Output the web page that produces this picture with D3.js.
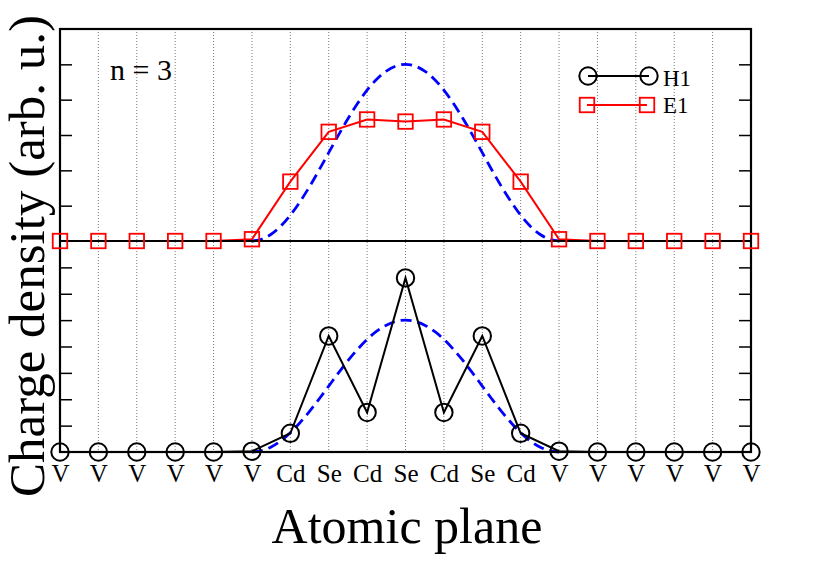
<!DOCTYPE html>
<html><head><meta charset="utf-8">
<script src="https://cdn.jsdelivr.net/npm/d3@7"></script>
<style>
html,body{margin:0;padding:0;background:#fff;}
svg text{font-family:"Liberation Serif","Times New Roman",serif;fill:#000;}
</style></head>
<body><svg id="c" width="830" height="587"></svg>
<script>
// ---- data ----
const atoms = ["V","V","V","V","V","V","Cd","Se","Cd","Se","Cd","Se","Cd","V","V","V","V","V","V"];
const H1 = [0,0,0,0,0,0.03,0.71,4.40,1.50,6.60,1.50,4.40,0.71,0.03,0,0,0,0,0];
const E1 = [0,0,0,0,0,0.05,1.68,3.09,3.44,3.38,3.44,3.09,1.68,0.05,0,0,0,0,0];
const envPos = [5,5.25,5.5,5.75,6,6.25,6.5,6.75,7,7.25,7.5,7.75,8,8.25,8.5,8.75,9,9.25,9.5,9.75,10,10.25,10.5,10.75,11,11.25,11.5,11.75,12,12.25,12.5,12.75,13];
const envE1 = [0,0.05,0.19,0.42,0.73,1.11,1.54,2.01,2.5,2.99,3.46,3.89,4.27,4.58,4.81,4.95,5.0,4.95,4.81,4.58,4.27,3.89,3.46,2.99,2.5,2.01,1.54,1.11,0.73,0.42,0.19,0.05,0];
const envH1 = [0,0.05,0.19,0.42,0.73,1.11,1.54,2.01,2.5,2.99,3.46,3.89,4.27,4.58,4.81,4.95,5.0,4.95,4.81,4.58,4.27,3.89,3.46,2.99,2.5,2.01,1.54,1.11,0.73,0.42,0.19,0.05,0];
const topTicks = [1,2,3,4,5];
const botTicks = [1,2,3,4,5,6,7];

// ---- layout ----
const L = 60, R = 751, T = 29, M = 241, B = 452;
const svg = d3.select("#c");
const x = d3.scaleLinear().domain([0,18]).range([L,R]);
const yTop = d3.scaleLinear().domain([0,6]).range([M,T]);
const yBot = d3.scaleLinear().domain([0,8]).range([B,M]);

// grid
svg.append("g").selectAll("line").data(d3.range(1,18)).join("line")
  .attr("x1",d=>x(d)).attr("x2",d=>x(d)).attr("y1",T).attr("y2",B)
  .attr("stroke","#777").attr("stroke-width",1).attr("stroke-dasharray","1,2");

// inward ticks via axes
function ticks(scale, vals, side){
  const ax = (side==="left"? d3.axisLeft(scale) : d3.axisRight(scale))
    .tickValues(vals).tickSize(-12).tickFormat("");
  const g = svg.append("g").attr("transform",`translate(${side==="left"?L:R},0)`).call(ax);
  g.select(".domain").remove();
  g.selectAll(".tick line").attr("stroke","#000").attr("stroke-width",1.5);
}
ticks(yTop, topTicks, "left"); ticks(yTop, topTicks, "right");
ticks(yBot, botTicks, "left"); ticks(yBot, botTicks, "right");

// envelopes
const envLineTop = d3.line().x((d,i)=>x(envPos[i])).y(d=>yTop(d)).curve(d3.curveCatmullRom);
const envLineBot = d3.line().x((d,i)=>x(envPos[i])).y(d=>yBot(d)).curve(d3.curveCatmullRom);
svg.append("path").attr("d",envLineTop(envE1)).attr("fill","none").attr("stroke","#0000ff")
  .attr("stroke-width",2.8).attr("stroke-dasharray","11,6");
svg.append("path").attr("d",envLineBot(envH1)).attr("fill","none").attr("stroke","#0000ff")
  .attr("stroke-width",2.8).attr("stroke-dasharray","11,6");

// data lines
const lineTop = d3.line().x((d,i)=>x(i)).y(d=>yTop(d));
const lineBot = d3.line().x((d,i)=>x(i)).y(d=>yBot(d));
svg.append("path").attr("d",lineTop(E1)).attr("fill","none").attr("stroke","#ff0000").attr("stroke-width",2);
svg.append("path").attr("d",lineBot(H1)).attr("fill","none").attr("stroke","#000").attr("stroke-width",2);

// baseline & frame
svg.append("line").attr("x1",L).attr("x2",R).attr("y1",M).attr("y2",M).attr("stroke","#000").attr("stroke-width",2.2);
svg.append("rect").attr("x",L).attr("y",T).attr("width",R-L).attr("height",B-T)
  .attr("fill","none").attr("stroke","#000").attr("stroke-width",2.2);

// markers
const sq = 14.5, cr = 8.7;
svg.append("g").selectAll("rect").data(E1).join("rect")
  .attr("x",(d,i)=>x(i)-sq/2).attr("y",d=>yTop(d)-sq/2).attr("width",sq).attr("height",sq)
  .attr("fill","none").attr("stroke","#ff0000").attr("stroke-width",1.8);
svg.append("g").selectAll("circle").data(H1).join("circle")
  .attr("cx",(d,i)=>x(i)).attr("cy",d=>yBot(d)).attr("r",cr)
  .attr("fill","none").attr("stroke","#000").attr("stroke-width",2);

// bottom labels
const xa = d3.axisBottom(x).tickValues(d3.range(atoms.length)).tickFormat(i=>atoms[i]).tickSize(0);
const gx = svg.append("g").attr("transform",`translate(0,${B})`).call(xa);
gx.select(".domain").remove();
gx.selectAll(".tick text").attr("y",30).attr("dy",0)
  .style("font-family","Liberation Serif").style("font-size","25px").attr("fill","#000");

// legend
const lg = svg.append("g");
lg.append("line").attr("x1",588).attr("x2",649).attr("y1",76).attr("y2",76).attr("stroke","#000").attr("stroke-width",2);
lg.selectAll("circle").data([588,649]).join("circle").attr("cx",d=>d).attr("cy",76).attr("r",cr)
  .attr("fill","none").attr("stroke","#000").attr("stroke-width",2);
lg.append("line").attr("x1",587).attr("x2",647).attr("y1",105).attr("y2",105).attr("stroke","#ff0000").attr("stroke-width",2);
lg.selectAll("rect").data([587,647]).join("rect").attr("x",d=>d-sq/2).attr("y",105-sq/2).attr("width",sq).attr("height",sq)
  .attr("fill","none").attr("stroke","#ff0000").attr("stroke-width",1.8);
lg.append("text").attr("x",663).attr("y",86).style("font-size","23px").text("H1");
lg.append("text").attr("x",663).attr("y",113).style("font-size","23px").text("E1");

// annotations
svg.append("text").attr("x",110).attr("y",80).style("font-size","30px").text("n = 3");
svg.append("text").attr("x",407).attr("y",543).attr("text-anchor","middle").style("font-size","50px").text("Atomic plane");
svg.append("text").attr("transform","translate(44,256) rotate(-90)").attr("text-anchor","middle")
  .style("font-size","51px").text("Charge density (arb. u.)");
</script></body></html>
